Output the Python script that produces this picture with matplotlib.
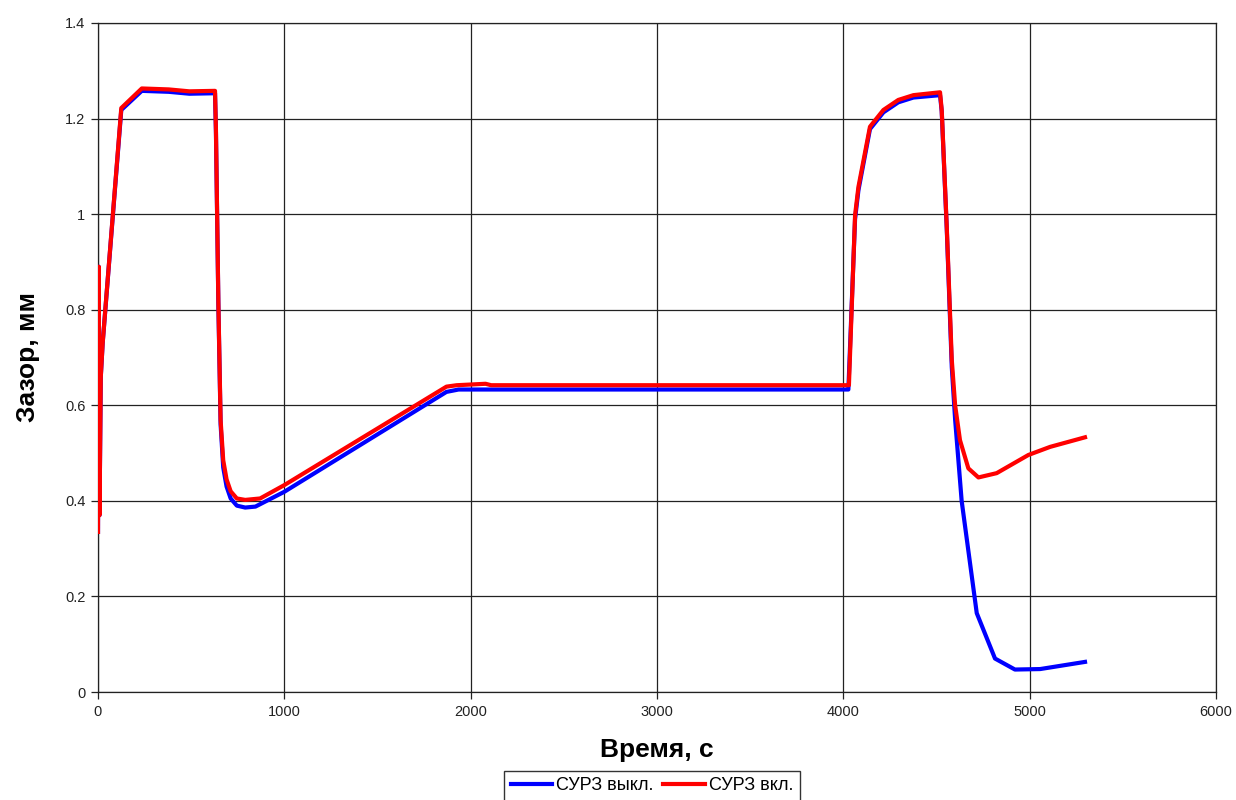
import matplotlib
matplotlib.use("Agg")
import matplotlib.pyplot as plt

plt.rcParams['font.family'] = ['Liberation Sans', 'DejaVu Sans']

# Time axis (s) and gap values (mm) for the two regimes
t_off = [0, 4, 8, 15, 25, 125, 235, 380, 490, 628, 633, 646, 658, 672, 690, 712,
         745, 790, 845, 1000, 1870, 1935, 4027, 4063, 4081, 4143, 4215, 4295,
         4376, 4519, 4528, 4555, 4582, 4600, 4635, 4716, 4814, 4921, 5056, 5297]
gap_off = [0.335, 0.89, 0.37, 0.66, 0.73, 1.218, 1.258, 1.256, 1.252, 1.253, 1.17,
           0.81, 0.56, 0.47, 0.43, 0.405, 0.39, 0.386, 0.388, 0.419, 0.628, 0.633,
           0.633, 0.99, 1.05, 1.178, 1.213, 1.234, 1.244, 1.249, 1.215, 0.97, 0.68,
           0.57, 0.40, 0.165, 0.07, 0.047, 0.048, 0.063]

t_on = [0, 4, 8, 15, 25, 125, 235, 380, 490, 628, 633, 646, 658, 672, 690, 712,
        745, 790, 870, 1000, 1870, 1925, 2080, 2110, 4030, 4063, 4081, 4143, 4215,
        4295, 4376, 4519, 4528, 4555, 4582, 4600, 4626, 4671, 4725, 4823, 4993,
        5110, 5297]
gap_on = [0.335, 0.89, 0.37, 0.66, 0.73, 1.222, 1.263, 1.261, 1.257, 1.258, 1.176,
          0.814, 0.569, 0.485, 0.445, 0.42, 0.405, 0.402, 0.405, 0.433, 0.639, 0.642,
          0.645, 0.642, 0.642, 0.998, 1.057, 1.183, 1.218, 1.239, 1.249, 1.255,
          1.218, 0.974, 0.695, 0.6, 0.527, 0.468, 0.449, 0.458, 0.496, 0.513, 0.533]

series_labels = ['СУРЗ выкл.', 'СУРЗ вкл.']
x_ticks = [0, 1000, 2000, 3000, 4000, 5000, 6000]
y_ticks = [0, 0.2, 0.4, 0.6, 0.8, 1.0, 1.2, 1.4]
y_tick_labels = ['0', '0.2', '0.4', '0.6', '0.8', '1', '1.2', '1.4']

fig = plt.figure(figsize=(12.36, 8.0), dpi=100)
ax = fig.add_axes([98 / 1236, 1 - 692 / 800, (1216 - 98) / 1236, (692 - 23) / 800])

ax.plot(t_off, gap_off, color='#0000FF', lw=3.0, label=series_labels[0],
        solid_joinstyle='round', zorder=3)
ax.plot(t_on, gap_on, color='#FF0000', lw=3.0, label=series_labels[1],
        solid_joinstyle='round', zorder=4)

ax.set_xlim(0, 6000)
ax.set_ylim(0, 1.4)
ax.set_xticks(x_ticks)
ax.set_yticks(y_ticks)
ax.set_yticklabels(y_tick_labels)
ax.grid(True, color='#222222', lw=0.9)
ax.set_axisbelow(True)
for s in ax.spines.values():
    s.set_color('#222222')
    s.set_linewidth(0.9)
ax.tick_params(axis='both', direction='out', length=5, width=0.9,
               labelsize=10.5, colors='#222222', pad=4)

ax.set_xlabel('Время, с', fontsize=19, fontweight='bold', labelpad=14)
ax.set_ylabel('Зазор, мм', fontsize=19, fontweight='bold', labelpad=18)

leg = fig.legend(loc='upper center', bbox_to_anchor=(652 / 1236, 1 - 771 / 800),
                 ncol=2, fontsize=13, frameon=True, fancybox=False,
                 edgecolor='black', handlelength=2.3, handletextpad=0.22,
                 columnspacing=0.55, borderpad=0.35, borderaxespad=0)
leg.get_frame().set_linewidth(1.0)

fig.savefig('out.png', dpi=100)
